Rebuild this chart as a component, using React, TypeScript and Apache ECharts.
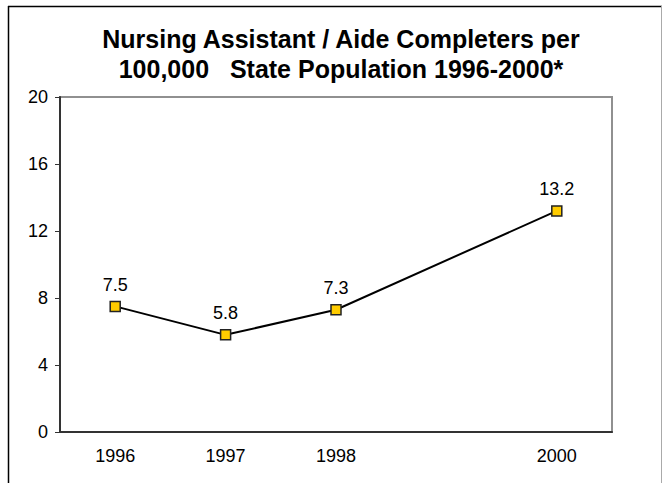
import React, { useEffect, useRef } from "react";
import * as echarts from "echarts";

const years = ["1996", "1997", "1998", "1999", "2000"];
const values: (number | null)[] = [7.5, 5.8, 7.3, null, 13.2];
const hiddenYears = ["1999"];
const titleText = "Nursing Assistant / Aide Completers per\n100,000   State Population 1996-2000*";

export default function App() {
  const ref = useRef<HTMLDivElement>(null);
  useEffect(() => {
    document.body.style.margin = "0";
    const chart = echarts.init(ref.current!, null, { renderer: "svg" });
    const font = "'Liberation Sans', Arial, sans-serif";
    chart.setOption({
      animation: false,
      backgroundColor: "#fff",
      title: {
        text: titleText,
        left: 336,
        top: 19,
        textAlign: "center",
        textStyle: { fontFamily: font, fontWeight: "bold", fontSize: 25, lineHeight: 30, color: "#000" },
      },
      grid: { left: 60, right: 51, top: 97, bottom: 51, show: true, borderColor: "#909090", borderWidth: 2, backgroundColor: "#fff" },
      xAxis: {
        type: "category",
        data: years,
        boundaryGap: true,
        axisLine: { lineStyle: { color: "#333", width: 2 } },
        axisTick: { show: false },
        axisLabel: {
          fontFamily: font,
          fontSize: 18,
          color: "#000",
          margin: 15,
          formatter: (v: string) => (hiddenYears.includes(v) ? "" : v),
        },
        splitLine: { show: false },
      },
      yAxis: {
        type: "value",
        min: 0,
        max: 20,
        interval: 4,
        axisLine: { show: true, lineStyle: { color: "#333", width: 2 } },
        axisTick: { show: true, length: 5, lineStyle: { color: "#333", width: 1 } },
        axisLabel: { fontFamily: font, fontSize: 18, color: "#000", margin: 12 },
        splitLine: { show: false },
      },
      series: [
        {
          type: "line",
          data: values,
          connectNulls: true,
          symbol: "rect",
          symbolSize: 10,
          lineStyle: { color: "#000", width: 2 },
          itemStyle: { color: "#FFCC00", borderColor: "#222", borderWidth: 1.5 },
          label: {
            show: true,
            position: "top",
            distance: 7,
            fontFamily: font,
            fontSize: 18,
            color: "#000",
          },
        },
      ],
      graphic: [
        { type: "line", shape: { x1: 8, y1: 6.5, x2: 662, y2: 6.5 }, style: { stroke: "#000", lineWidth: 1.5 } },
        { type: "line", shape: { x1: 8.5, y1: 6, x2: 8.5, y2: 483 }, style: { stroke: "#000", lineWidth: 1.5 } },
        { type: "line", shape: { x1: 661.5, y1: 6, x2: 661.5, y2: 483 }, style: { stroke: "#aaa", lineWidth: 1 } },
      ],
    });
    return () => chart.dispose();
  }, []);
  return <div ref={ref} style={{ width: 663, height: 483 }} />;
}
